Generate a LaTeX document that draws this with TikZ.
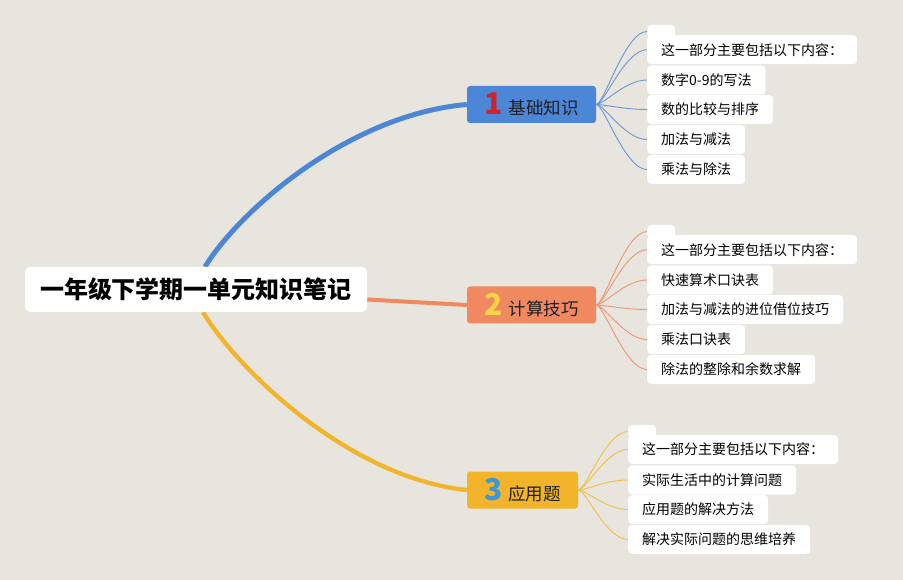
\documentclass[tikz,border=0pt]{standalone}
\usepackage{fontspec}
\setmainfont{Noto Sans CJK SC}
\pgfdeclarelayer{bg}
\pgfsetlayers{bg,main}
\definecolor{bgc}{HTML}{E8E5DE}
\definecolor{cblue}{HTML}{4C86D7}
\definecolor{corange}{HTML}{F0895F}
\definecolor{cyellow}{HTML}{F1B42B}
\definecolor{lblue}{HTML}{6A96D8}
\definecolor{lorange}{HTML}{EE9575}
\definecolor{lyellow}{HTML}{F0BF45}
\definecolor{nred}{HTML}{D6212B}
\definecolor{nyellow}{HTML}{F6D646}
\definecolor{nblue}{HTML}{3A9AD9}
\definecolor{txt}{HTML}{1E1E1E}
\tikzset{
  rootbox/.style={fill=white, rounded corners=5pt, minimum width=342pt, minimum height=45pt, inner sep=0pt, font=\fontsize{24}{27}\selectfont\bfseries, text=black},
  branchbox/.style={rounded corners=3pt, minimum height=37pt, inner sep=0pt, font=\fontsize{17.5}{20}\selectfont, text=txt},
  leafbox/.style={fill=white, rounded corners=4pt, anchor=west, minimum height=29pt, inner xsep=14pt, inner ysep=0pt, font=\fontsize{14}{16}\selectfont, text=black},
  emptyleaf/.style={fill=white, rounded corners=4pt, anchor=west, minimum width=28pt, minimum height=13pt, inner sep=0pt},
  leafline/.style={line width=0.9pt},
}
\newcommand{\bnum}[2]{{\fontsize{30}{30}\selectfont\bfseries\color{#1}#2}\hspace{6pt}}
\begin{document}
\begin{tikzpicture}[x=1pt,y=-1pt]
\useasboundingbox (0,0) rectangle (903,580);

% root and branches
\node[rootbox] (root) at (196,289.5) {一年级下学期一单元知识笔记};
\node[branchbox, fill=cblue, minimum width=129pt] (b1) at (531.5,104.5) {\bnum{nred}{1}基础知识};
\node[branchbox, fill=corange, minimum width=129pt] (b2) at (531.5,305) {\bnum{nyellow}{2}计算技巧};
\node[branchbox, fill=cyellow, minimum width=111pt] (b3) at (522.5,490) {\bnum{nblue}{3}应用题};

% leaves of branch 1
\node[emptyleaf] (a0) at (647,31.5) {};
\node[leafbox] (a1) at (647,49.7) {这一部分主要包括以下内容：};
\node[leafbox] (a2) at (647,80) {数字0-9的写法};
\node[leafbox] (a3) at (647,109.5) {数的比较与排序};
\node[leafbox] (a4) at (647,139.5) {加法与减法};
\node[leafbox] (a5) at (647,169.5) {乘法与除法};

% leaves of branch 2
\node[emptyleaf] (c0) at (647,231.5) {};
\node[leafbox] (c1) at (647,249.7) {这一部分主要包括以下内容：};
\node[leafbox] (c2) at (647,280) {快速算术口诀表};
\node[leafbox] (c3) at (647,309.5) {加法与减法的进位借位技巧};
\node[leafbox] (c4) at (647,339.5) {乘法口诀表};
\node[leafbox] (c5) at (647,369.5) {除法的整除和余数求解};

% leaves of branch 3
\node[emptyleaf] (d0) at (628,431.5) {};
\node[leafbox] (d1) at (628,449.5) {这一部分主要包括以下内容：};
\node[leafbox] (d2) at (628,480) {实际生活中的计算问题};
\node[leafbox] (d3) at (628,509.5) {应用题的解决方法};
\node[leafbox] (d4) at (628,539.5) {解决实际问题的思维培养};

\begin{pgfonlayer}{bg}
\fill[bgc] (0,0) rectangle (903,580);
% main connectors
\draw[cblue, line width=5pt] ([xshift=9pt]root.north) .. controls +(35,-57) and +(-117,10) .. (b1.west);
\draw[corange, line width=4pt] ([yshift=-10pt]root.east) -- (b2.west);
\draw[cyellow, line width=4.3pt] ([xshift=7pt]root.south) .. controls +(35,58) and +(-117,-12) .. (b3.west);

% leaf connectors
\foreach \n in {a0,a1,a2,a3,a4,a5}
  \draw[leafline, lblue] (b1.east) .. controls +(8,0) and +(-22,0) .. (\n.west);
\foreach \n in {c0,c1,c2,c3,c4,c5}
  \draw[leafline, lorange] (b2.east) .. controls +(8,0) and +(-22,0) .. (\n.west);
\foreach \n in {d0,d1,d2,d3,d4}
  \draw[leafline, lyellow] (b3.east) .. controls +(8,0) and +(-22,0) .. (\n.west);
\end{pgfonlayer}
\end{tikzpicture}
\end{document}
